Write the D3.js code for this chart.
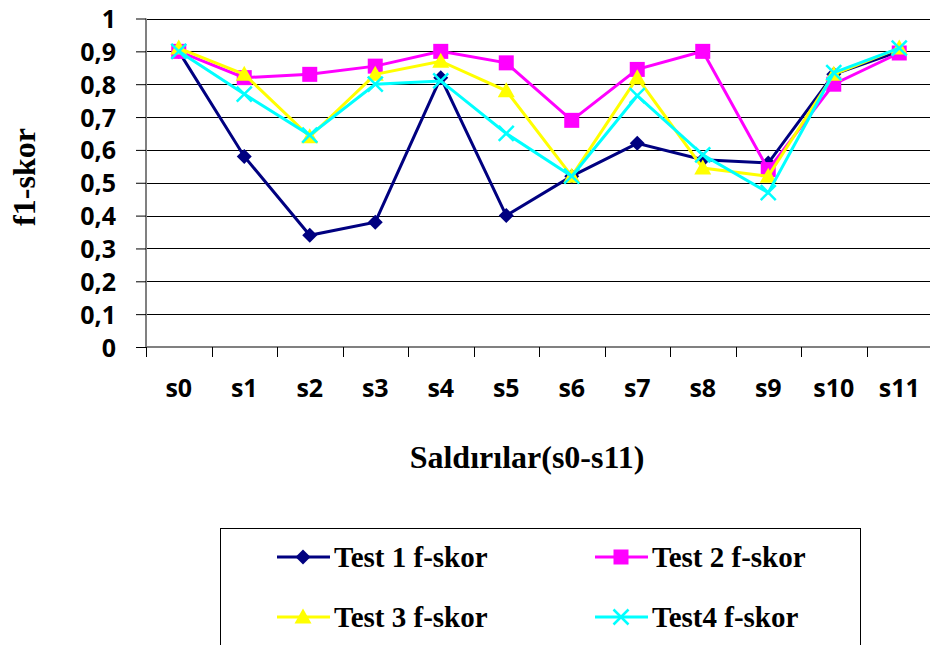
<!DOCTYPE html>
<html><head><meta charset="utf-8">
<script src="https://cdn.jsdelivr.net/npm/d3@7"></script>
<style>html,body{margin:0;padding:0;background:#fff;overflow:hidden}</style>
</head><body>
<svg id="chart" width="930" height="645"></svg>
<script>
const categories = ["s0","s1","s2","s3","s4","s5","s6","s7","s8","s9","s10","s11"];
const test1 = [0.90,0.58,0.34,0.38,0.82,0.40,0.52,0.62,0.57,0.56,0.83,0.90];
const test2 = [0.90,0.82,0.83,0.855,0.90,0.865,0.69,0.845,0.90,0.54,0.80,0.895];
const test3 = [0.91,0.83,0.64,0.83,0.87,0.78,0.52,0.82,0.545,0.52,0.83,0.91];
const test4 = [0.90,0.77,0.645,0.80,0.81,0.65,0.52,0.765,0.585,0.47,0.835,0.91];
const yTicks = [0,0.1,0.2,0.3,0.4,0.5,0.6,0.7,0.8,0.9,1];
const yTickLabels = ["0","0,1","0,2","0,3","0,4","0,5","0,6","0,7","0,8","0,9","1"];
const seriesNames = ["Test 1 f-skor","Test 2 f-skor","Test 3 f-skor","Test4 f-skor"];
const seriesColors = ["#000080","#FF00FF","#FFFF00","#00FFFF"];
const seriesMarkers = ["diamond","square","triangle","x"];
const seriesData = [test1,test2,test3,test4];

const svg = d3.select("#chart");
const plotLeft = 146, plotTop = 18.5, plotBottom = 347, band = 65.5;
const x = d3.scaleBand().domain(categories).range([plotLeft, plotLeft + band*categories.length]).paddingInner(0).paddingOuter(0);
const y = d3.scaleLinear().domain([0,1]).range([plotBottom, plotTop]);

// gridlines
svg.append("g").selectAll("line").data(yTicks.filter(v=>v>0)).join("line")
  .attr("x1", plotLeft).attr("x2", 940)
  .attr("y1", d=>Math.round(y(d))+0.5).attr("y2", d=>Math.round(y(d))+0.5)
  .attr("stroke","#000").attr("stroke-width",1);

// y axis
const yAxis = d3.axisLeft(y).tickValues(yTicks).tickSize(10).tickPadding(0)
  .tickFormat((d,i)=>yTickLabels[i]);
const gy = svg.append("g").attr("transform",`translate(${plotLeft},0)`).call(yAxis);
gy.select(".domain").attr("stroke","#808080").attr("stroke-width",2).attr("d",`M0,${plotTop}V${plotBottom}`);
gy.selectAll(".tick line").attr("stroke","#000").attr("stroke-width",1);
gy.selectAll(".tick text").attr("x",-30).attr("dy","0.36em")
  .attr("font-family","'Open Sans', sans-serif").attr("font-weight","bold").attr("font-size","25px").attr("fill","#000");

// x axis
const xAxis = d3.axisBottom(x).tickSize(0).tickPadding(0);
const gx = svg.append("g").attr("transform",`translate(0,${plotBottom})`).call(xAxis);
gx.select(".domain").attr("stroke","#808080").attr("stroke-width",2).attr("d",`M${plotLeft},0H940`);
gx.selectAll(".tick text").attr("y",50).attr("dy",0)
  .attr("font-family","'Open Sans', sans-serif").attr("font-weight","bold").attr("font-size","25px").attr("fill","#000");
// category boundary ticks
svg.append("g").selectAll("line").data(categories).join("line")
  .attr("x1", d=>Math.round(x(d))+0.5).attr("x2", d=>Math.round(x(d))+0.5)
  .attr("y1", plotBottom).attr("y2", plotBottom+10).attr("stroke","#000").attr("stroke-width",1);

// titles
svg.append("text").attr("x",527).attr("y",468).attr("text-anchor","middle")
  .attr("font-family","'Liberation Serif', 'Times New Roman', serif").attr("font-weight","bold").attr("font-size","32px")
  .text("Saldırılar(s0-s11)");
svg.append("text").attr("transform","translate(35,177) rotate(-90)").attr("text-anchor","middle")
  .attr("font-family","'Liberation Serif', 'Times New Roman', serif").attr("font-weight","bold").attr("font-size","32px")
  .text("f1-skor");

function drawMarker(g, type, color, cx, cy){
  if(type==="diamond"){
    g.append("path").attr("d",`M${cx},${cy-7.5}L${cx+7.5},${cy}L${cx},${cy+7.5}L${cx-7.5},${cy}Z`).attr("fill",color);
  } else if(type==="square"){
    g.append("rect").attr("x",cx-7.5).attr("y",cy-7.5).attr("width",15).attr("height",15).attr("fill",color);
  } else if(type==="triangle"){
    g.append("path").attr("d",`M${cx},${cy-8.5}L${cx+8.5},${cy+6.5}L${cx-8.5},${cy+6.5}Z`).attr("fill",color);
  } else {
    g.append("path").attr("d",`M${cx-7.5},${cy-7.5}L${cx+7.5},${cy+7.5}M${cx+7.5},${cy-7.5}L${cx-7.5},${cy+7.5}`)
      .attr("stroke",color).attr("stroke-width",2.5).attr("fill","none");
  }
}

const line = d3.line().x((d,i)=>x(categories[i])+x.bandwidth()/2).y(d=>y(d));
seriesData.forEach((data,k)=>{
  const g = svg.append("g");
  g.append("path").attr("d", line(data)).attr("fill","none").attr("stroke",seriesColors[k]).attr("stroke-width",3);
  data.forEach((v,i)=>drawMarker(g, seriesMarkers[k], seriesColors[k], x(categories[i])+x.bandwidth()/2, y(v)));
});

// legend
const lg = svg.append("g");
lg.append("rect").attr("x",220.5).attr("y",528.5).attr("width",640).attr("height",200)
  .attr("fill","#fff").attr("stroke","#000").attr("stroke-width",1);
const legPos = [[277,557],[595,557],[277,617],[595,617]];
seriesNames.forEach((name,k)=>{
  const [lx,ly] = legPos[k];
  lg.append("line").attr("x1",lx).attr("x2",lx+53).attr("y1",ly).attr("y2",ly).attr("stroke",seriesColors[k]).attr("stroke-width",3);
  drawMarker(lg, seriesMarkers[k], seriesColors[k], lx+26, ly);
  lg.append("text").attr("x",lx+57).attr("y",ly+10)
    .attr("font-family","'Liberation Serif', 'Times New Roman', serif").attr("font-weight","bold").attr("font-size","29px")
    .text(name);
});
</script>
</body></html>
